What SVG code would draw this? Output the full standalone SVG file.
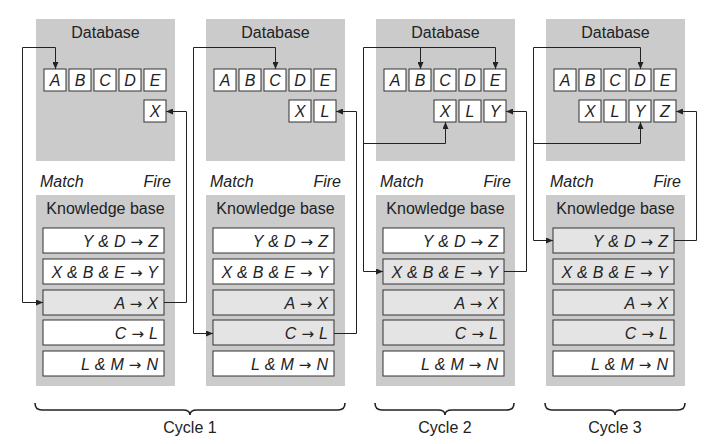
<svg xmlns="http://www.w3.org/2000/svg" width="713" height="444" viewBox="0 0 713 444">
<style>
.panel{fill:#cbcbcb;stroke:none}
.box{fill:#fff;stroke:#333;stroke-width:1}
.rule{fill:#fff;stroke:#333;stroke-width:1}
.rule.on{fill:#e4e4e4}
.t{font-family:"Liberation Sans",Arial,sans-serif;font-size:16px;fill:#222}
.c{text-anchor:middle}
.r{text-anchor:end;word-spacing:0.6px}
.i{font-style:italic}
.ar{font-family:"DejaVu Sans",sans-serif;font-style:normal;font-size:15px}
.conn{fill:none;stroke:#222;stroke-width:1}
.brace{fill:none;stroke:#222;stroke-width:1.6}
</style>
<defs>
<marker id="ah" markerUnits="userSpaceOnUse" markerWidth="8" markerHeight="6" refX="7" refY="3" orient="auto">
<path d="M0,0 L7,3 L0,6 z" fill="#222"/>
</marker>
<g id="dbpanel"><rect class="panel" x="36" y="19" width="139" height="142"/><text class="t c" x="105.5" y="38">Database</text></g>
<g id="kbpanel"><rect class="panel" x="36" y="195" width="139" height="191"/><text class="t c" x="105.5" y="214">Knowledge base</text><text class="t i" x="40" y="187">Match</text><text class="t i r" x="171" y="187">Fire</text></g>
</defs>

<!-- Column 1 -->
<g id="col1">
<use href="#dbpanel"/>
<use href="#kbpanel"/>
<g id="c1-A"><rect class="box" x="44" y="69" width="22" height="22"/><text class="t i c" x="55" y="86">A</text></g>
<g id="c1-B"><rect class="box" x="69" y="69" width="22" height="22"/><text class="t i c" x="80" y="86">B</text></g>
<g id="c1-C"><rect class="box" x="94" y="69" width="22" height="22"/><text class="t i c" x="105" y="86">C</text></g>
<g id="c1-D"><rect class="box" x="119" y="69" width="22" height="22"/><text class="t i c" x="130" y="86">D</text></g>
<g id="c1-E"><rect class="box" x="144" y="69" width="22" height="22"/><text class="t i c" x="155" y="86">E</text></g>
<g id="c1-X"><rect class="box" x="144" y="100" width="22" height="22"/><text class="t i c" x="155" y="117">X</text></g>
<g id="c1-r1"><rect class="rule" x="43" y="228" width="121" height="25"/><text class="t i r" x="158" y="247">Y &amp; D <tspan class="ar">→</tspan> Z</text></g>
<g id="c1-r2"><rect class="rule" x="43" y="259" width="121" height="25"/><text class="t i r" x="158" y="278">X &amp; B &amp; E <tspan class="ar">→</tspan> Y</text></g>
<g id="c1-r3"><rect class="rule on" x="43" y="290" width="121" height="25"/><text class="t i r" x="158" y="309">A <tspan class="ar">→</tspan> X</text></g>
<g id="c1-r4"><rect class="rule" x="43" y="320" width="121" height="25"/><text class="t i r" x="158" y="339">C <tspan class="ar">→</tspan> L</text></g>
<g id="c1-r5"><rect class="rule" x="43" y="351" width="121" height="25"/><text class="t i r" x="158" y="370">L &amp; M <tspan class="ar">→</tspan> N</text></g>
</g>

<!-- Column 2 -->
<g id="col2" transform="translate(170,0)">
<use href="#dbpanel"/>
<use href="#kbpanel"/>
<g id="c2-A"><rect class="box" x="44" y="69" width="22" height="22"/><text class="t i c" x="55" y="86">A</text></g>
<g id="c2-B"><rect class="box" x="69" y="69" width="22" height="22"/><text class="t i c" x="80" y="86">B</text></g>
<g id="c2-C"><rect class="box" x="94" y="69" width="22" height="22"/><text class="t i c" x="105" y="86">C</text></g>
<g id="c2-D"><rect class="box" x="119" y="69" width="22" height="22"/><text class="t i c" x="130" y="86">D</text></g>
<g id="c2-E"><rect class="box" x="144" y="69" width="22" height="22"/><text class="t i c" x="155" y="86">E</text></g>
<g id="c2-X"><rect class="box" x="119" y="100" width="22" height="22"/><text class="t i c" x="130" y="117">X</text></g>
<g id="c2-L"><rect class="box" x="144" y="100" width="22" height="22"/><text class="t i c" x="155" y="117">L</text></g>
<g id="c2-r1"><rect class="rule" x="43" y="228" width="121" height="25"/><text class="t i r" x="158" y="247">Y &amp; D <tspan class="ar">→</tspan> Z</text></g>
<g id="c2-r2"><rect class="rule" x="43" y="259" width="121" height="25"/><text class="t i r" x="158" y="278">X &amp; B &amp; E <tspan class="ar">→</tspan> Y</text></g>
<g id="c2-r3"><rect class="rule on" x="43" y="290" width="121" height="25"/><text class="t i r" x="158" y="309">A <tspan class="ar">→</tspan> X</text></g>
<g id="c2-r4"><rect class="rule on" x="43" y="320" width="121" height="25"/><text class="t i r" x="158" y="339">C <tspan class="ar">→</tspan> L</text></g>
<g id="c2-r5"><rect class="rule" x="43" y="351" width="121" height="25"/><text class="t i r" x="158" y="370">L &amp; M <tspan class="ar">→</tspan> N</text></g>
</g>

<!-- Column 3 -->
<g id="col3" transform="translate(340,0)">
<use href="#dbpanel"/>
<use href="#kbpanel"/>
<g id="c3-A"><rect class="box" x="44" y="69" width="22" height="22"/><text class="t i c" x="55" y="86">A</text></g>
<g id="c3-B"><rect class="box" x="69" y="69" width="22" height="22"/><text class="t i c" x="80" y="86">B</text></g>
<g id="c3-C"><rect class="box" x="94" y="69" width="22" height="22"/><text class="t i c" x="105" y="86">C</text></g>
<g id="c3-D"><rect class="box" x="119" y="69" width="22" height="22"/><text class="t i c" x="130" y="86">D</text></g>
<g id="c3-E"><rect class="box" x="144" y="69" width="22" height="22"/><text class="t i c" x="155" y="86">E</text></g>
<g id="c3-X"><rect class="box" x="94" y="100" width="22" height="22"/><text class="t i c" x="105" y="117">X</text></g>
<g id="c3-L"><rect class="box" x="119" y="100" width="22" height="22"/><text class="t i c" x="130" y="117">L</text></g>
<g id="c3-Y"><rect class="box" x="144" y="100" width="22" height="22"/><text class="t i c" x="155" y="117">Y</text></g>
<g id="c3-r1"><rect class="rule" x="43" y="228" width="121" height="25"/><text class="t i r" x="158" y="247">Y &amp; D <tspan class="ar">→</tspan> Z</text></g>
<g id="c3-r2"><rect class="rule on" x="43" y="259" width="121" height="25"/><text class="t i r" x="158" y="278">X &amp; B &amp; E <tspan class="ar">→</tspan> Y</text></g>
<g id="c3-r3"><rect class="rule on" x="43" y="290" width="121" height="25"/><text class="t i r" x="158" y="309">A <tspan class="ar">→</tspan> X</text></g>
<g id="c3-r4"><rect class="rule on" x="43" y="320" width="121" height="25"/><text class="t i r" x="158" y="339">C <tspan class="ar">→</tspan> L</text></g>
<g id="c3-r5"><rect class="rule" x="43" y="351" width="121" height="25"/><text class="t i r" x="158" y="370">L &amp; M <tspan class="ar">→</tspan> N</text></g>
</g>

<!-- Column 4 -->
<g id="col4" transform="translate(510,0)">
<use href="#dbpanel"/>
<use href="#kbpanel"/>
<g id="c4-A"><rect class="box" x="44" y="69" width="22" height="22"/><text class="t i c" x="55" y="86">A</text></g>
<g id="c4-B"><rect class="box" x="69" y="69" width="22" height="22"/><text class="t i c" x="80" y="86">B</text></g>
<g id="c4-C"><rect class="box" x="94" y="69" width="22" height="22"/><text class="t i c" x="105" y="86">C</text></g>
<g id="c4-D"><rect class="box" x="119" y="69" width="22" height="22"/><text class="t i c" x="130" y="86">D</text></g>
<g id="c4-E"><rect class="box" x="144" y="69" width="22" height="22"/><text class="t i c" x="155" y="86">E</text></g>
<g id="c4-X"><rect class="box" x="69" y="100" width="22" height="22"/><text class="t i c" x="80" y="117">X</text></g>
<g id="c4-L"><rect class="box" x="94" y="100" width="22" height="22"/><text class="t i c" x="105" y="117">L</text></g>
<g id="c4-Y"><rect class="box" x="119" y="100" width="22" height="22"/><text class="t i c" x="130" y="117">Y</text></g>
<g id="c4-Z"><rect class="box" x="144" y="100" width="22" height="22"/><text class="t i c" x="155" y="117">Z</text></g>
<g id="c4-r1"><rect class="rule on" x="43" y="228" width="121" height="25"/><text class="t i r" x="158" y="247">Y &amp; D <tspan class="ar">→</tspan> Z</text></g>
<g id="c4-r2"><rect class="rule on" x="43" y="259" width="121" height="25"/><text class="t i r" x="158" y="278">X &amp; B &amp; E <tspan class="ar">→</tspan> Y</text></g>
<g id="c4-r3"><rect class="rule on" x="43" y="290" width="121" height="25"/><text class="t i r" x="158" y="309">A <tspan class="ar">→</tspan> X</text></g>
<g id="c4-r4"><rect class="rule on" x="43" y="320" width="121" height="25"/><text class="t i r" x="158" y="339">C <tspan class="ar">→</tspan> L</text></g>
<g id="c4-r5"><rect class="rule" x="43" y="351" width="121" height="25"/><text class="t i r" x="158" y="370">L &amp; M <tspan class="ar">→</tspan> N</text></g>
</g>

<!-- Connectors -->
<g id="connectors">
<path class="conn" d="M22.5,302.5 V47.5 H55.5 V69" marker-end="url(#ah)"/>
<path class="conn" d="M22.5,302.5 H43" marker-end="url(#ah)"/>
<path class="conn" d="M164,302.5 H186.5 V111.5 H166" marker-end="url(#ah)"/>

<path class="conn" d="M193.5,333.5 V47.5 H275.5 V69" marker-end="url(#ah)"/>
<path class="conn" d="M193.5,333.5 H213" marker-end="url(#ah)"/>
<path class="conn" d="M334,333.5 H356.5 V111.5 H336" marker-end="url(#ah)"/>

<path class="conn" d="M363.5,271.5 V47.5 H495.5 V69" marker-end="url(#ah)"/>
<path class="conn" d="M420.5,47.5 V69" marker-end="url(#ah)"/>
<path class="conn" d="M363.5,143.5 H445.5 V122" marker-end="url(#ah)"/>
<path class="conn" d="M363.5,271.5 H383" marker-end="url(#ah)"/>
<path class="conn" d="M504,271.5 H526.5 V111.5 H506" marker-end="url(#ah)"/>

<path class="conn" d="M533.5,240.5 V47.5 H640.5 V69" marker-end="url(#ah)"/>
<path class="conn" d="M533.5,143.5 H640.5 V122" marker-end="url(#ah)"/>
<path class="conn" d="M533.5,240.5 H553" marker-end="url(#ah)"/>
<path class="conn" d="M674,240.5 H696.5 V111.5 H676" marker-end="url(#ah)"/>
</g>

<!-- Braces -->
<g id="cycle1">
<path class="brace" d="M35,403 Q35,410 42,410 H183 Q190,410 190,415 Q190,410 197,410 H338 Q345,410 345,403"/>
<text class="t c" x="190" y="433">Cycle 1</text>
</g>
<g id="cycle2">
<path class="brace" d="M375,403 Q375,410 382,410 H438 Q445,410 445,415 Q445,410 452,410 H507 Q514,410 514,403"/>
<text class="t c" x="445" y="433">Cycle 2</text>
</g>
<g id="cycle3">
<path class="brace" d="M545,403 Q545,410 552,410 H608 Q615,410 615,415 Q615,410 622,410 H678 Q685,410 685,403"/>
<text class="t c" x="615" y="433">Cycle 3</text>
</g>
</svg>
